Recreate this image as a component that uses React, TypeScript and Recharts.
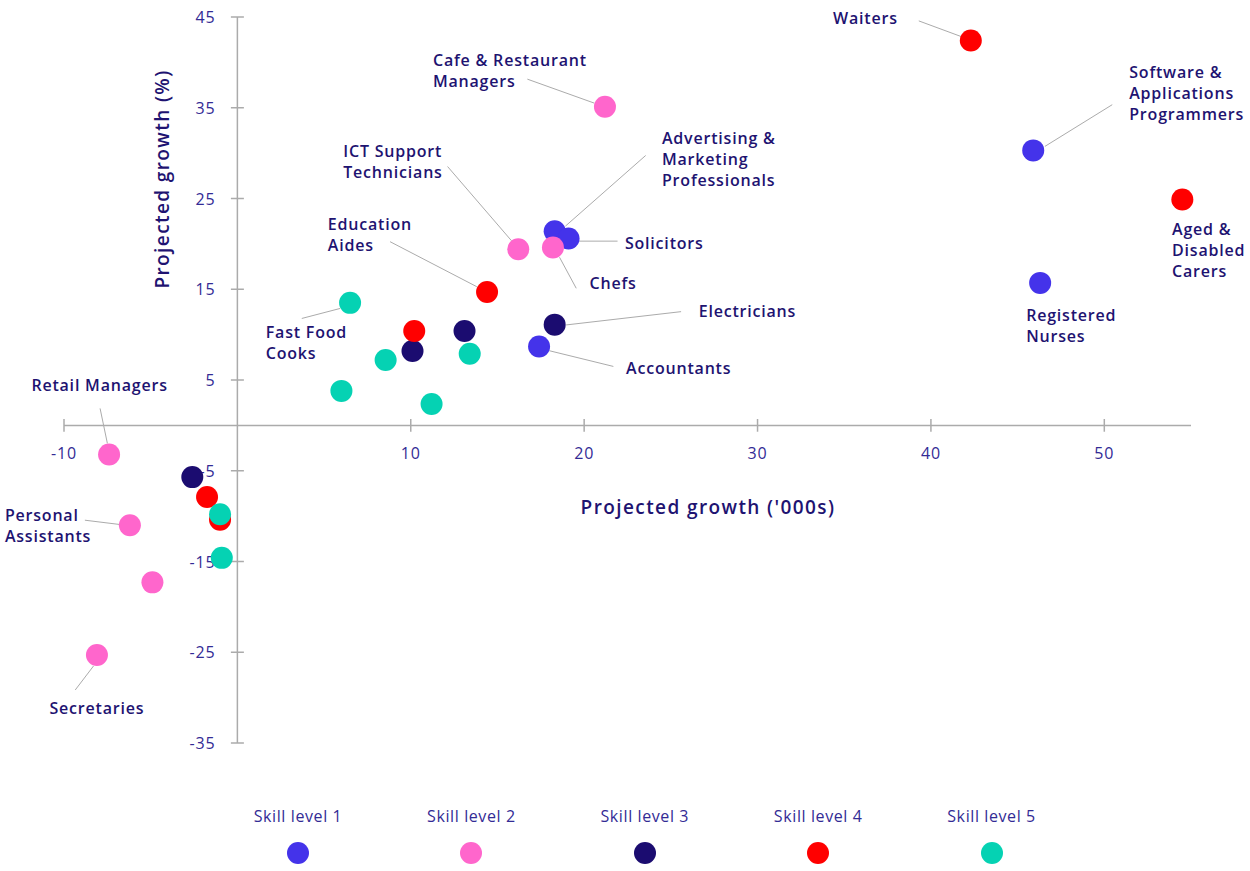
import React from "react";
import { ReferenceLine, Scatter, ScatterChart, XAxis, YAxis } from "recharts";

// points per skill level: projected growth ('000s) vs projected growth (%)
const SKILL_1 = [
  { x: 45.9, y: 30.3, name: "Software & Applications Programmers" },
  { x: 46.3, y: 15.7, name: "Registered Nurses" },
  { x: 18.3, y: 21.4, name: "Advertising & Marketing Professionals" },
  { x: 19.1, y: 20.6, name: "Solicitors" },
  { x: 17.4, y: 8.7, name: "Accountants" },
];

const SKILL_2 = [
  { x: 21.2, y: 35.1, name: "Cafe & Restaurant Managers" },
  { x: 16.2, y: 19.4, name: "ICT Support Technicians" },
  { x: 18.2, y: 19.6, name: "Chefs" },
  { x: -7.4, y: -3.2, name: "Retail Managers" },
  { x: -6.2, y: -11.0, name: "Personal Assistants" },
  { x: -4.9, y: -17.3 },
  { x: -8.1, y: -25.3, name: "Secretaries" },
];

const SKILL_3 = [
  { x: 13.1, y: 10.4 },
  { x: 10.1, y: 8.2 },
  { x: 18.3, y: 11.1, name: "Electricians" },
  { x: -2.6, y: -5.7 },
];

const SKILL_4 = [
  { x: 42.3, y: 42.4, name: "Waiters" },
  { x: 54.5, y: 24.9, name: "Aged & Disabled Carers" },
  { x: 14.4, y: 14.7, name: "Education Aides" },
  { x: 10.2, y: 10.4 },
  { x: -1.75, y: -7.9 },
  { x: -1.0, y: -10.4 },
];

const SKILL_5 = [
  { x: 6.5, y: 13.5, name: "Fast Food Cooks" },
  { x: 8.55, y: 7.2 },
  { x: 6.0, y: 3.8 },
  { x: 13.4, y: 7.9 },
  { x: 11.2, y: 2.35 },
  { x: -1.0, y: -9.8 },
  { x: -0.9, y: -14.6 },
];

const X_TICKS = [-10, 10, 20, 30, 40, 50];
const Y_TICKS = [45, 35, 25, 15, 5, -5, -15, -25, -35];

const SERIES = [
  { name: "Skill level 1", data: SKILL_1, color: "#4433EA" },
  { name: "Skill level 2", data: SKILL_2, color: "#FF66CC" },
  { name: "Skill level 3", data: SKILL_3, color: "#1B0C70" },
  { name: "Skill level 4", data: SKILL_4, color: "#FF0000" },
  { name: "Skill level 5", data: SKILL_5, color: "#05D2B3" },
];

// label placement, px relative to the dot: text start + leader line [x1,y1,x2,y2]
const NOTES: Record<string, any> = {
  "Waiters": { lines: ["Waiters"], tx: -73, ty: -22.4, anchor: "end", line: [-52, -19.7, -9.5, -4] },
  "Cafe & Restaurant Managers": { lines: ["Cafe & Restaurant", "Managers"], tx: -172, ty: -46.7, line: [-77.6, -27.7, -10.6, -3.7] },
  "ICT Support Technicians": { lines: ["ICT Support", "Technicians"], tx: -175, ty: -98.8, line: [-70.7, -82.8, -6.7, -8.5] },
  "Education Aides": { lines: ["Education", "Aides"], tx: -159.3, ty: -67.7, line: [-97, -50.3, -10.3, -5.3] },
  "Fast Food Cooks": { lines: ["Fast Food", "Cooks"], tx: -84.3, ty: 29.6, line: [-48.3, 15.6, -10, 5.6] },
  "Advertising & Marketing Professionals": { lines: ["Advertising &", "Marketing", "Professionals"], tx: 107.3, ty: -93.4, line: [10.7, -5, 91, -75.7] },
  "Solicitors": { lines: ["Solicitors"], tx: 56.4, ty: 4.3, line: [10.7, 2.7, 49, 2.7] },
  "Chefs": { lines: ["Chefs"], tx: 36.6, ty: 35.8, line: [6.6, 9.8, 23.3, 40.8] },
  "Electricians": { lines: ["Electricians"], tx: 144, ty: -14, line: [11.4, 0.3, 126.4, -13] },
  "Accountants": { lines: ["Accountants"], tx: 87, ty: 21.6, line: [10.3, 4.3, 74.3, 20] },
  "Software & Applications Programmers": { lines: ["Software &", "Applications", "Programmers"], tx: 96, ty: -78, line: [11.7, -4, 79, -45.7] },
  "Aged & Disabled Carers": { lines: ["Aged &", "Disabled", "Carers"], tx: -10.3, ty: 30 },
  "Registered Nurses": { lines: ["Registered", "Nurses"], tx: -14, ty: 32.3 },
  "Retail Managers": { lines: ["Retail Managers"], tx: -77.7, ty: -69.3, line: [-9, -46, -1.7, -11] },
  "Personal Assistants": { lines: ["Personal", "Assistants"], tx: -125, ty: -10, line: [-45, -5, -10, -0.7] },
  "Secretaries": { lines: ["Secretaries"], tx: 0, ty: 53.3, anchor: "middle", line: [-21.7, 35, -3.4, 11] },
};

const FONT = "'Open Sans', sans-serif";
const NAVY = "#1E1371";
const TICK_COLOR = "#332B95";
const AXIS_COLOR = "#ABABAB";

const labelled = SERIES.flatMap((s) => s.data.filter((d: any) => d.name));

const Dot = (p: any) => <circle cx={p.cx} cy={p.cy} r={11} fill={p.fill} />;

const Note = (p: any) => {
  const n = NOTES[p.payload?.name];
  if (!n) return <g />;
  return (
    <g>
      {n.line && (
        <line
          x1={p.cx + n.line[0]}
          y1={p.cy + n.line[1]}
          x2={p.cx + n.line[2]}
          y2={p.cy + n.line[3]}
          stroke={AXIS_COLOR}
          strokeWidth={1}
        />
      )}
      {n.lines.map((t: string, i: number) => (
        <text
          key={i}
          x={p.cx + n.tx}
          y={p.cy + n.ty + i * 21}
          textAnchor={n.anchor || "start"}
          dominantBaseline="central"
          fill={NAVY}
          fontFamily={FONT}
          fontSize={16}
          fontWeight={600}
          letterSpacing={0.8}
        >
          {t}
        </text>
      ))}
    </g>
  );
};

const tickText = (text: string, dx: number, dy: number, anchor: string) => (p: any) => {
  const vb = p.viewBox || {};
  const cx = vb.x + (vb.width || 0) / 2;
  const cy = vb.y + (vb.height || 0) / 2;
  return (
    <text
      x={cx + dx}
      y={cy + dy}
      textAnchor={anchor}
      dominantBaseline="central"
      fill={TICK_COLOR}
      fontFamily={FONT}
      fontSize={16}
      letterSpacing={0.8}
    >
      {text}
    </text>
  );
};

const titleStyle: React.CSSProperties = {
  position: "absolute",
  whiteSpace: "nowrap",
  color: NAVY,
  fontSize: 19,
  fontWeight: 600,
  letterSpacing: 1.4,
};

export default function App() {
  return (
    <div style={{ position: "absolute", left: 0, top: 0, width: 1250, height: 871, background: "#fff", fontFamily: FONT }}>
      <ScatterChart width={1250} height={871} margin={{ top: 17, right: 59, bottom: 128, left: 64 }}>
        <XAxis type="number" dataKey="x" domain={[-10, 55]} hide />
        <YAxis type="number" dataKey="y" domain={[-35, 45]} hide />
        <ReferenceLine y={0} stroke={AXIS_COLOR} strokeWidth={1.5} />
        <ReferenceLine x={0} stroke={AXIS_COLOR} strokeWidth={1.5} />
        {Y_TICKS.map((v) => (
          <ReferenceLine
            key={"y" + v}
            segment={[{ x: -0.375, y: v }, { x: 0.375, y: v }]}
            stroke={AXIS_COLOR}
            strokeWidth={1.5}
            label={tickText(String(v), -22, 0, "end")}
          />
        ))}
        {X_TICKS.map((v) => (
          <ReferenceLine
            key={"x" + v}
            segment={[{ x: v, y: -0.7 }, { x: v, y: 0.7 }]}
            stroke={AXIS_COLOR}
            strokeWidth={1.5}
            label={tickText(String(v), 0, 27.5, "middle")}
          />
        ))}
        <Scatter data={labelled} shape={Note} legendType="none" isAnimationActive={false} />
        {SERIES.map((s) => (
          <Scatter key={s.name} name={s.name} data={s.data} fill={s.color} shape={Dot} isAnimationActive={false} />
        ))}
      </ScatterChart>

      <div style={{ ...titleStyle, left: 708, top: 507, transform: "translate(-50%, -50%)" }}>
        Projected growth ('000s)
      </div>
      <div style={{ ...titleStyle, left: 162, top: 179, transform: "translate(-50%, -50%) rotate(-90deg)" }}>
        Projected growth (%)
      </div>

      <div style={{ position: "absolute", left: 298 - 86.7, top: 804, display: "flex" }}>
        {SERIES.map((s) => (
          <div key={s.name} style={{ width: 173.4, display: "flex", flexDirection: "column", alignItems: "center" }}>
            <div style={{ height: 24, lineHeight: "24px", fontSize: 16, color: TICK_COLOR, letterSpacing: 0.6 }}>{s.name}</div>
            <div style={{ marginTop: 14, width: 22, height: 22, borderRadius: "50%", background: s.color }} />
          </div>
        ))}
      </div>
    </div>
  );
}
